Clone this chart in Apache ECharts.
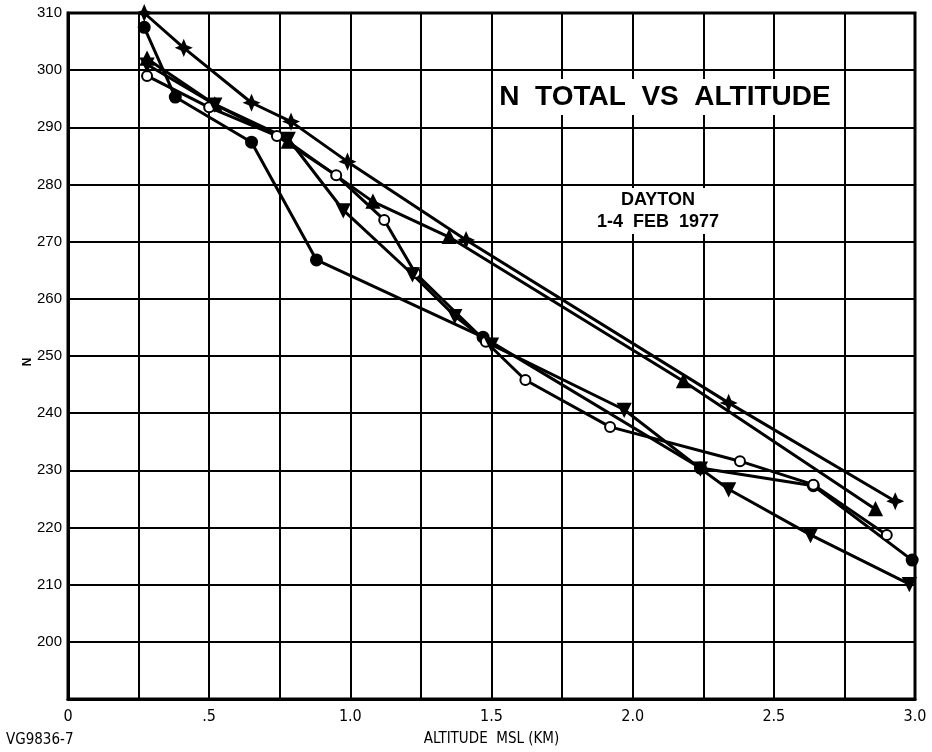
<!DOCTYPE html>
<html>
<head>
<meta charset="utf-8">
<script src="https://cdn.jsdelivr.net/npm/echarts@6/dist/echarts.min.js"></script>
<style>
html,body{margin:0;padding:0;background:#fff;}
#c{width:932px;height:752px;}
</style>
</head>
<body>
<div id="c"></div>
<script>
// ---- data (altitude km, N units) ----
const xTicks = ['0', '.5', '1.0', '1.5', '2.0', '2.5', '3.0'];
const yTicks = [200, 210, 220, 230, 240, 250, 260, 270, 280, 290, 300, 310];

const starSeries = [[0.27,310],[0.41,303.9],[0.65,294.3],[0.79,291],[0.99,284],[1.41,270.3],[2.34,241.8],[2.93,224.6]];
const triUpSeries = [[0.28,302],[0.52,294],[0.78,287.5],[1.08,277],[1.35,270.8],[2.18,245.6],[2.86,223.2]];
const dotSeries = [[0.27,307.5],[0.38,295.3],[0.65,287.4],[0.88,266.8],[1.47,253.3],[2.24,230.4],[2.64,227.3],[2.99,214.3]];
const openSeries = [[0.28,299],[0.50,293.5],[0.74,288.5],[0.95,281.6],[1.12,273.8],[1.23,264.5],[1.48,252.5],[1.62,245.8],[1.92,237.6],[2.38,231.6],[2.64,227.5],[2.90,218.7]];
const triDownSeries = [[0.28,301],[0.52,294],[0.78,288],[0.975,275.5],[1.22,264.3],[1.37,257],[1.50,252],[1.97,240.6],[2.24,230.3],[2.34,226.7],[2.63,218.7],[2.98,210.1]];

const titleText = 'N  TOTAL  VS  ALTITUDE';
const subText = ['DAYTON', '1-4  FEB  1977'];
const yName = 'N';
const xName = 'ALTITUDE  MSL (KM)';
const figId = 'VG9836-7';

const STAR = 'path://M0,-10 L3,-3 L10,0 L3,3 L0,10 L-3,3 L-10,0 L-3,-3 Z';

const chart = echarts.init(document.getElementById('c'), null, {renderer:'canvas'});
const narrow = '"Liberation Sans Narrow","DejaVu Sans Condensed",sans-serif';
const bold = '"Liberation Sans", Arial, sans-serif';

function line(data, symbol, size, rotate) {
  return {
    type: 'line', data: data, symbol: symbol, symbolSize: size, symbolRotate: rotate || 0,
    showAllSymbol: true,
    lineStyle: {color: '#000', width: 3, type: 'solid'},
    itemStyle: {color: '#000', borderColor: '#000', borderWidth: 2},
    emphasis: {disabled: true},
    z: 3, animation: false
  };
}

chart.setOption({
  backgroundColor: '#fff',
  animation: false,
  grid: {left: 68, right: 17, top: 13, bottom: 53, show: true, borderColor: '#000', borderWidth: 3, backgroundColor: 'transparent'},
  xAxis: {
    type: 'value', min: 0, max: 3, interval: 0.25,
    name: xName, nameLocation: 'middle', nameGap: 33,
    nameTextStyle: {fontFamily: narrow, fontSize: 15, color: '#000'},
    axisLine: {show: true, lineStyle: {color: '#000', width: 3}},
    axisTick: {show: false},
    splitLine: {show: true, lineStyle: {color: '#000', width: 2}},
    axisLabel: {
      color: '#000', fontFamily: narrow, fontSize: 16, margin: 10,
      formatter: function (v) {
        const k = Math.round(v * 2);
        if (Math.abs(v * 2 - k) > 1e-6) return '';
        return xTicks[k] || '';
      }
    }
  },
  yAxis: {
    type: 'value', min: 190, max: 310, interval: 10,
    axisLine: {show: true, lineStyle: {color: '#000', width: 3}},
    axisTick: {show: false},
    splitLine: {show: true, lineStyle: {color: '#000', width: 2}},
    axisLabel: {
      color: '#000', fontFamily: bold, fontSize: 15, margin: 6,
      formatter: function (v) { return yTicks.indexOf(v) >= 0 ? String(v) : ''; }
    }
  },
  graphic: [
    {type: 'text', x: 665, y: 97, z: 10,
     style: {text: titleText, font: 'bold 28px ' + bold, fill: '#000',
             align: 'center', verticalAlign: 'middle',
             backgroundColor: '#fff', padding: [4, 6, 4, 6]}},
    {type: 'text', x: 658, y: 211, z: 10,
     style: {text: subText.join('\n'), font: 'bold 18px ' + bold, fill: '#000',
             align: 'center', verticalAlign: 'middle', lineHeight: 22,
             backgroundColor: '#fff', padding: [1, 4, 1, 4]}},
    {type: 'text', x: 28, y: 362, rotation: Math.PI / 2,
     style: {text: yName, font: 'bold 12px ' + bold, fill: '#000', align: 'center', verticalAlign: 'middle'}},
    {type: 'text', left: 6, top: 733, style: {text: figId, font: '15px ' + narrow, fill: '#000'}}
  ],
  series: [
    line(starSeries, STAR, 13),
    line(triUpSeries, 'triangle', 12),
    line(dotSeries, 'circle', 11),
    line(openSeries, 'emptyCircle', 10),
    line(triDownSeries, 'triangle', 12, 180)
  ]
});
</script>
</body>
</html>
